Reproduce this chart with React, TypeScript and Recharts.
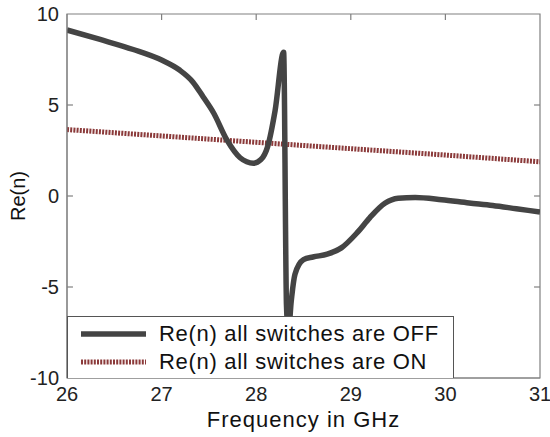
import { LineChart, Line, XAxis, YAxis, ReferenceArea, ReferenceLine } from "recharts";

const freqOff = [
  26.0, 26.35, 26.7, 27.0, 27.19, 27.33, 27.44, 27.55, 27.69, 27.83, 27.9, 27.97,
  28.05, 28.12, 28.2, 28.29, 28.32, 28.34, 28.37, 28.41, 28.5, 28.6, 28.75, 28.9,
  29.07, 29.2, 29.36, 29.5, 29.68, 29.96, 30.25, 30.5, 30.75, 31.0,
];
const reOff = [
  9.12, 8.6, 8.05, 7.47, 6.92, 6.27, 5.44, 4.56, 3.08, 2.1, 1.88, 1.8,
  2.0, 2.7, 4.7, 7.9, -6.0, -7.5, -5.8, -4.3, -3.5, -3.35, -3.2, -2.85,
  -2.0, -1.2, -0.4, -0.12, -0.08, -0.2, -0.38, -0.52, -0.7, -0.88,
];

const freqOn = [26, 27, 28, 29, 30, 31];
const reOn = [3.65, 3.3, 2.95, 2.6, 2.25, 1.88];

const xTicks = [26, 27, 28, 29, 30, 31];
const yTicks = [-10, -5, 0, 5, 10];

const offLabel = "Re(n) all switches are OFF";
const onLabel = "Re(n) all switches are ON";

const offData = freqOff.map((f, i) => ({ f, v: reOff[i] }));
const onData = freqOn.map((f, i) => ({ f, v: reOn[i] }));

const X_MIN = 26;
const X_MAX = 31;
const Y_MIN = -10;
const Y_MAX = 10;
// inward tick length in data units (about 6px)
const X_TICK = 0.063;
const Y_TICK = 0.33;

const FONT = "Arial, 'Liberation Sans', sans-serif";
const OFF_COLOR = "#444444";
const ON_COLOR = "#8b3a3a";
const AXIS_COLOR = "#808080";

const BottomTick = (props: any) => {
  const { x, y, payload } = props;
  return (
    <text x={x} y={y} dy="0.71em" textAnchor="middle" fontSize={20} fill="#222" fontFamily={FONT}>
      {payload.value}
    </text>
  );
};

const LeftTick = (props: any) => {
  const { x, y, payload } = props;
  return (
    <text x={x} y={y} dy="0.36em" textAnchor="end" fontSize={20} fill="#222" fontFamily={FONT}>
      {payload.value}
    </text>
  );
};

export default function App() {
  // inner tick marks on all four sides of the box
  const tickSegs: { x1: number; y1: number; x2: number; y2: number }[] = [];
  xTicks.slice(1, -1).forEach((t) => {
    tickSegs.push({ x1: t, y1: Y_MIN, x2: t, y2: Y_MIN + Y_TICK });
    tickSegs.push({ x1: t, y1: Y_MAX, x2: t, y2: Y_MAX - Y_TICK });
  });
  yTicks.slice(1, -1).forEach((t) => {
    tickSegs.push({ x1: X_MIN, y1: t, x2: X_MIN + X_TICK, y2: t });
    tickSegs.push({ x1: X_MAX, y1: t, x2: X_MAX - X_TICK, y2: t });
  });

  return (
    <div style={{ position: "absolute", left: 0, top: 0, width: 550, height: 437, background: "#fff" }}>
      <LineChart
        width={550}
        height={437}
        margin={{ top: 14, right: 10, bottom: 0, left: 0 }}
      >
        <XAxis
          xAxisId="b"
          dataKey="f"
          type="number"
          domain={[X_MIN, X_MAX]}
          ticks={xTicks}
          allowDataOverflow
          height={59}
          stroke={AXIS_COLOR}
          tickLine={false}
          tickSize={0}
          tickMargin={9}
          tick={BottomTick}
          label={{
            value: "Frequency in GHz",
            position: "insideBottom",
            offset: 10,
            style: { fontSize: 22, fill: "#111", fontFamily: FONT, letterSpacing: 1 },
          }}
        />
        <YAxis
          yAxisId="l"
          type="number"
          domain={[Y_MIN, Y_MAX]}
          ticks={yTicks}
          width={67}
          stroke={AXIS_COLOR}
          tickLine={false}
          tickSize={0}
          tickMargin={8}
          tick={LeftTick}
          label={{
            value: "Re(n)",
            angle: -90,
            position: "insideLeft",
            offset: 18,
            style: { fontSize: 20, fill: "#111", fontFamily: FONT, textAnchor: "middle" },
          }}
        />
        <ReferenceArea
          xAxisId="b"
          yAxisId="l"
          x1={X_MIN}
          x2={X_MAX}
          y1={Y_MIN}
          y2={Y_MAX}
          fill="none"
          fillOpacity={0}
          stroke={AXIS_COLOR}
          strokeWidth={1.2}
        />
        {tickSegs.map((s, i) => (
          <ReferenceLine
            key={i}
            xAxisId="b"
            yAxisId="l"
            segment={[
              { x: s.x1, y: s.y1 },
              { x: s.x2, y: s.y2 },
            ]}
            stroke={AXIS_COLOR}
            strokeWidth={1.2}
          />
        ))}
        <Line
          xAxisId="b"
          yAxisId="l"
          data={onData}
          dataKey="v"
          type="linear"
          stroke={ON_COLOR}
          strokeWidth={5}
          strokeDasharray="2 1.2"
          dot={false}
          isAnimationActive={false}
        />
        <Line
          xAxisId="b"
          yAxisId="l"
          data={offData}
          dataKey="v"
          type="monotone"
          stroke={OFF_COLOR}
          strokeWidth={5.5}
          dot={false}
          isAnimationActive={false}
        />
      </LineChart>
      <div
        style={{
          position: "absolute",
          left: 67,
          top: 316,
          width: 385,
          height: 61,
          background: "#fff",
          border: "1px solid #555",
          borderBottom: "none",
          fontFamily: FONT,
          fontSize: 22,
          letterSpacing: 0.7,
          color: "#111",
        }}
      >
        {[
          { label: offLabel, color: OFF_COLOR, dash: undefined, w: 5.5 },
          { label: onLabel, color: ON_COLOR, dash: "2 1.2", w: 5 },
        ].map((it, i) => (
          <div
            key={it.label}
            style={{
              position: "absolute",
              left: 0,
              top: 3 + i * 28,
              height: 28,
              display: "flex",
              alignItems: "center",
              whiteSpace: "nowrap",
            }}
          >
            <svg width={91} height={28} style={{ display: "block" }}>
              <line x1={13} x2={78} y1={14} y2={14} stroke={it.color} strokeWidth={it.w} strokeDasharray={it.dash} />
            </svg>
            <span>{it.label}</span>
          </div>
        ))}
      </div>
    </div>
  );
}
